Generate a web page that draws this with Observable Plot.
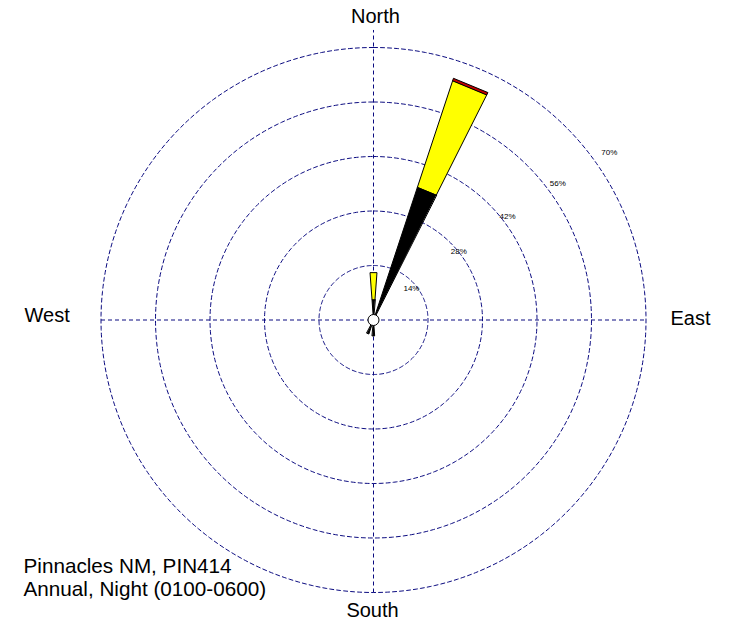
<!DOCTYPE html>
<html><head><meta charset="utf-8">
<script src="https://cdn.jsdelivr.net/npm/d3@7"></script>
<script src="https://cdn.jsdelivr.net/npm/@observablehq/plot@0.6"></script>
<style>body{margin:0;background:#fff} #chart svg{display:block}</style>
</head><body><div id="chart"></div>
<script>
// ---- data ----
const directions = ["N", "NNE", "S", "SSW"];
const dirAngles = [0, 22.5, 180, 202.5];
const speedClasses = ["low", "mid", "high"];
const classColors = ["#000000", "#ffff00", "#c00000"];
const lowValues = [5.3, 36.0, 4.1, 3.8];
const midValues = [6.9, 28.8, 0, 0];
const highValues = [0, 0.6, 0, 0];
const ringValues = [14, 28, 42, 56, 70];
const ringLabels = ["14%", "28%", "42%", "56%", "70%"];
const compassLabels = ["North", "East", "South", "West"];
const siteText = ["Pinnacles NM, PIN414", "Annual, Night (0100-0600)"];

// ---- layout ----
const W = 733, H = 625, cx = 373, cy = 319.5;
const k = 54.5 / 14;          // pixels per percent
const halfWidth = 4.2;        // wedge half angle, degrees
const rad = d => d * Math.PI / 180;
const px = (r, a) => r * Math.sin(rad(a));
const py = (r, a) => r * Math.cos(rad(a));

// wedge polygons built from stacked values
const classSeries = [lowValues, midValues, highValues];
const wedgePts = [];
directions.forEach((d, i) => {
  let r0 = 0;
  classSeries.forEach((vals, c) => {
    const v = vals[i];
    if (v > 0) {
      const r1 = r0 + v;
      const a = dirAngles[i];
      const id = d + "-" + speedClasses[c];
      const pts = r0 === 0
        ? [[0, a], [r1, a - halfWidth], [r1, a + halfWidth]]
        : [[r0, a - halfWidth], [r1, a - halfWidth], [r1, a + halfWidth], [r0, a + halfWidth]];
      pts.forEach(([r, ang]) => wedgePts.push({id, color: classColors[c], x: px(r, ang), y: py(r, ang)}));
      r0 = r1;
    }
  });
});

// ring polylines
const ringPts = [];
ringValues.forEach(r => {
  for (let a = 0; a <= 360; a += 1) ringPts.push({ring: r, x: px(r, a), y: py(r, a)});
});

// ring labels
const ringLabelData = ringValues.map((v, i) => {
  const a = 49 + v * 0.08, r = v * 1.1 - 2.7;
  return {text: ringLabels[i], x: px(r, a), y: py(r, a)};
});

const font = "'Liberation Sans', Arial, Helvetica, sans-serif";
const lineColor = "#0a0a80";

const chart = Plot.plot({
  width: W, height: H,
  marginTop: 0, marginRight: 0, marginBottom: 0, marginLeft: 0,
  x: {domain: [-cx / k, (W - cx) / k], range: [0, W], axis: null},
  y: {domain: [(cy - H) / k, cy / k], range: [H, 0], axis: null},
  color: {type: "identity"},
  style: {fontFamily: font, background: "#fff"},
  marks: [
    // rings
    Plot.line(ringPts, {x: "x", y: "y", z: "ring", stroke: lineColor, strokeWidth: 1, strokeDasharray: "4,3"}),
    // axis lines
    Plot.link([{x1: -ringValues[4], y1: 0, x2: ringValues[4], y2: 0}], {x1: "x1", y1: "y1", x2: "x2", y2: "y2", stroke: lineColor, strokeDasharray: "4,3"}),
    Plot.link([{x1: 0, y1: -ringValues[4], x2: 0, y2: ringValues[4] + 4.5}], {x1: "x1", y1: "y1", x2: "x2", y2: "y2", stroke: lineColor, strokeDasharray: "4,3"}),
    // wedges
    Plot.line(wedgePts, {x: "x", y: "y", z: "id", fill: "color", stroke: "#000", strokeWidth: 1, curve: "linear-closed"}),
    // calm circle
    Plot.dot([{x: 0, y: 0}], {x: "x", y: "y", r: 5.5, fill: "#fff", stroke: "#000", strokeWidth: 1}),
    // ring labels
    Plot.text(ringLabelData, {x: "x", y: "y", text: "text", fontSize: 8, fill: "#000"}),
    // compass labels
    Plot.text([compassLabels[0]], {frameAnchor: "top", lineAnchor: "middle", dx: 8.5, dy: 16.3, fontSize: 20, fill: "#000"}),
    Plot.text([compassLabels[1]], {frameAnchor: "right", lineAnchor: "middle", textAnchor: "end", dx: -23, dy: 5.5, fontSize: 20, fill: "#000"}),
    Plot.text([compassLabels[2]], {frameAnchor: "bottom", lineAnchor: "middle", dx: 5.5, dy: -14.7, fontSize: 20, fill: "#000"}),
    Plot.text([compassLabels[3]], {frameAnchor: "left", lineAnchor: "middle", textAnchor: "start", dx: 24, dy: 3, fontSize: 20, fill: "#000"}),
    // site text
    Plot.text([siteText[0]], {frameAnchor: "bottom-left", lineAnchor: "middle", textAnchor: "start", dx: 23, dy: -59.4, fontSize: 20.7, fill: "#000"}),
    Plot.text([siteText[1]], {frameAnchor: "bottom-left", lineAnchor: "middle", textAnchor: "start", dx: 23, dy: -36.4, fontSize: 20.7, fill: "#000"})
  ]
});
document.getElementById("chart").appendChild(chart);
</script>
</body></html>
